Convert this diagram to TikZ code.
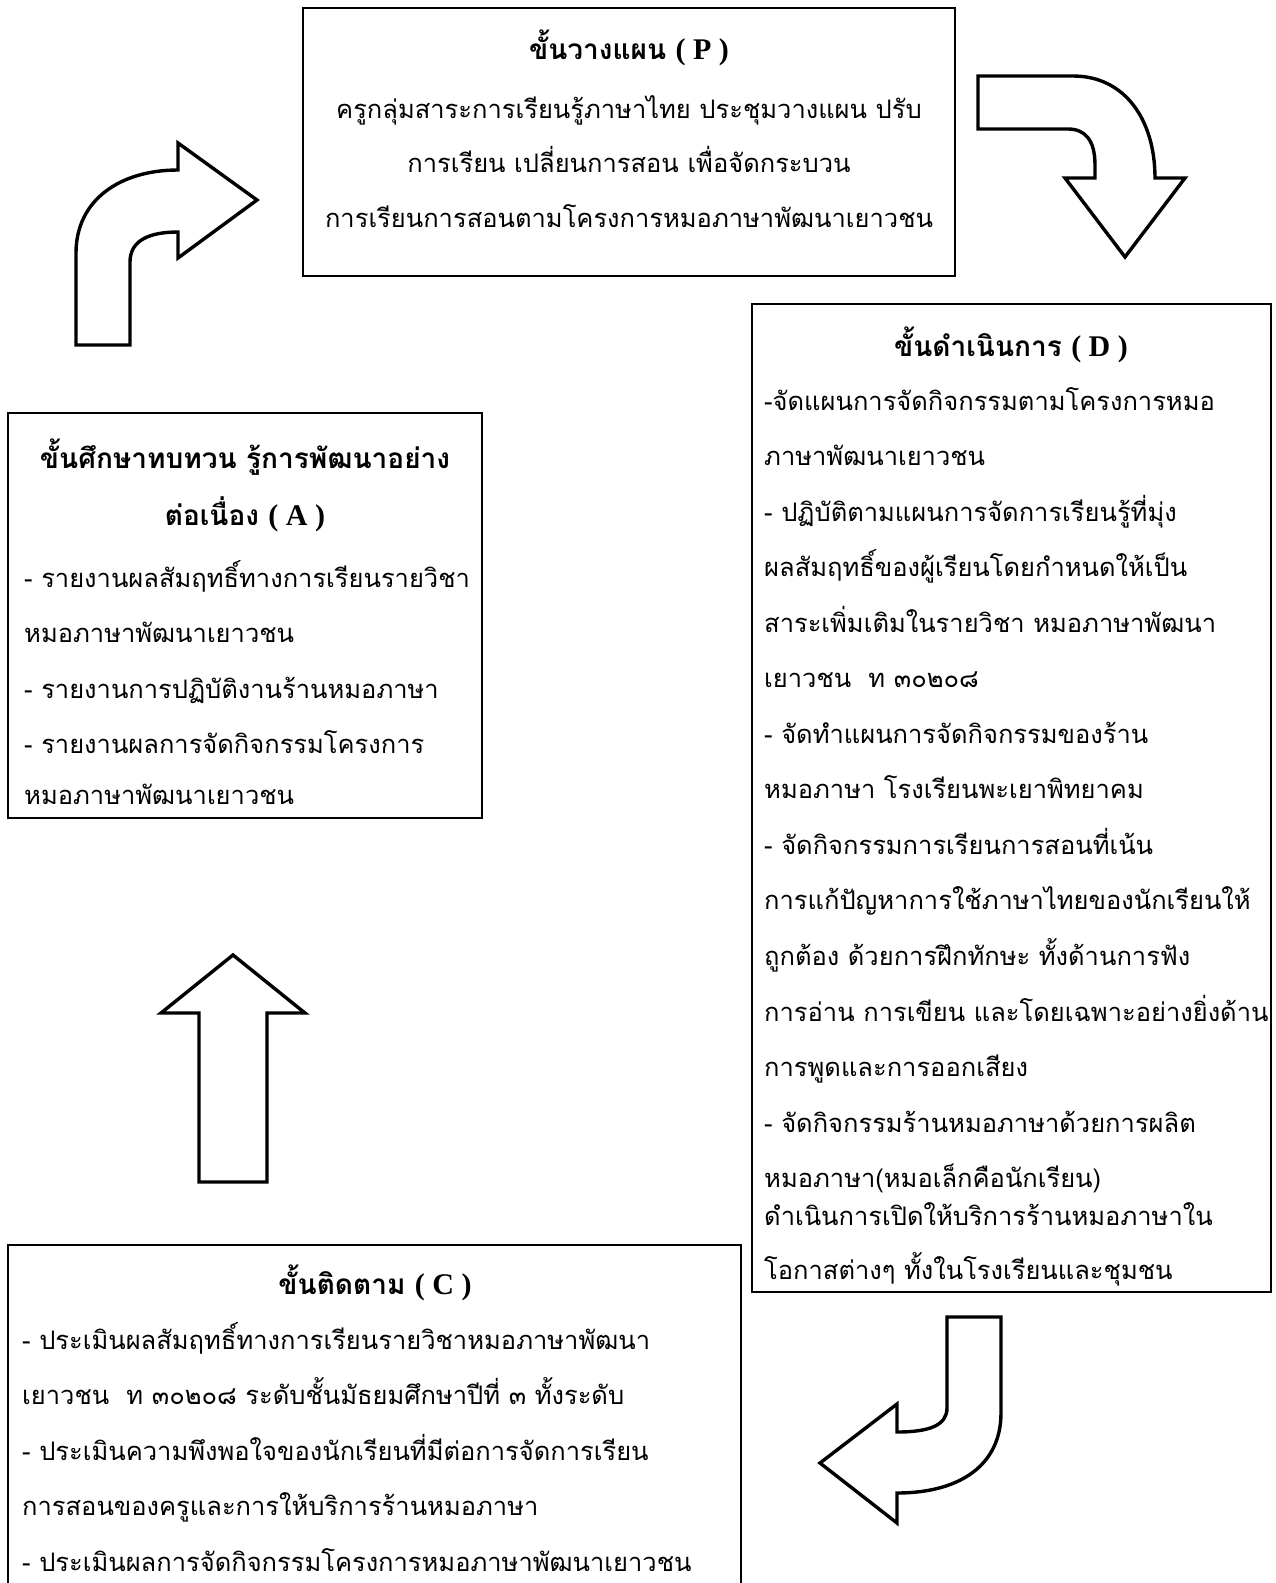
\documentclass[tikz,border=0pt]{standalone}
\usepackage{fontspec}
\newfontfamily\thaifont[Script=Thai]{Loma}
\newfontfamily\latinbf{Liberation Serif}
\tikzset{
  frame/.style={draw=black,line width=1.6pt,fill=none},
  blockarrow/.style={draw=black,line width=3.4pt,fill=white,line join=miter},
  bodyline/.style={anchor=base west,inner sep=0pt,font=\thaifont\fontsize{25.5}{30}\selectfont},
  bodyc/.style={anchor=base,inner sep=0pt,font=\thaifont\fontsize{25.5}{30}\selectfont},
  titleline/.style={anchor=base,inner sep=0pt,font=\thaifont\bfseries\fontsize{28}{32}\selectfont},
}
\newcommand{\lat}[1]{{\latinbf\bfseries\fontsize{30}{32}\selectfont #1}}
\begin{document}
\begin{tikzpicture}[x=1pt,y=-1pt]
\useasboundingbox (0,0) rectangle (1275,1583);
\fill[white] (0,0) rectangle (1275,1583);
\clip (0,0) rectangle (1275,1583);

% ---- boxes
\draw[frame] (303,8) rectangle (955,276);
\node[inner sep=0pt] (P) at (629,142) {};
\draw[frame] (752,304) rectangle (1271,1292);
\node[inner sep=0pt] (D) at (1011,798) {};
\draw[frame] (8,413) rectangle (482,818);
\node[inner sep=0pt] (A) at (245,615) {};
\draw[frame] (8,1245) rectangle (741,1620);
\node[inner sep=0pt] (C) at (375,1420) {};

% ---- P
\node[titleline] (ptitle) at (629,59) {ขั้นวางแผน \lat{( P )}};
\node[bodyc] (p1) at (629,118) {ครูกลุ่มสาระการเรียนรู้ภาษาไทย ประชุมวางแผน ปรับ};
\node[bodyc] (p2) at (629,172) {การเรียน เปลี่ยนการสอน เพื่อจัดกระบวน};
\node[bodyc] (p3) at (629,227) {การเรียนการสอนตามโครงการหมอภาษาพัฒนาเยาวชน};

% ---- D
\node[titleline] (dtitle) at (1011,356) {ขั้นดำเนินการ \lat{( D )}};
\foreach \yy/\tt [count=\i] in {
 410/{-จัดแผนการจัดกิจกรรมตามโครงการหมอ},
 465/{ภาษาพัฒนาเยาวชน},
 521/{- ปฏิบัติตามแผนการจัดการเรียนรู้ที่มุ่ง},
 576/{ผลสัมฤทธิ์ของผู้เรียนโดยกำหนดให้เป็น},
 632/{สาระเพิ่มเติมในรายวิชา หมอภาษาพัฒนา},
 687/{เยาวชน\ \ ท ๓๐๒๐๘},
 743/{- จัดทำแผนการจัดกิจกรรมของร้าน},
 798/{หมอภาษา โรงเรียนพะเยาพิทยาคม},
 854/{- จัดกิจกรรมการเรียนการสอนที่เน้น},
 909/{การแก้ปัญหาการใช้ภาษาไทยของนักเรียนให้},
 965/{ถูกต้อง ด้วยการฝึกทักษะ ทั้งด้านการฟัง},
 1021/{การอ่าน การเขียน และโดยเฉพาะอย่างยิ่งด้าน},
 1076/{การพูดและการออกเสียง},
 1132/{- จัดกิจกรรมร้านหมอภาษาด้วยการผลิต},
 1187/{หมอภาษา(หมอเล็กคือนักเรียน)},
 1225/{ดำเนินการเปิดให้บริการร้านหมอภาษาใน},
 1279/{โอกาสต่างๆ ทั้งในโรงเรียนและชุมชน}}
  \node[bodyline] (d\i) at (764,\yy) {\tt};

% ---- A
\node[titleline] (atitle1) at (245,468) {ขั้นศึกษาทบทวน รู้การพัฒนาอย่าง};
\node[titleline] (atitle2) at (245,525) {ต่อเนื่อง \lat{( A )}};
\foreach \yy/\tt [count=\i] in {
 587/{- รายงานผลสัมฤทธิ์ทางการเรียนรายวิชา},
 642/{หมอภาษาพัฒนาเยาวชน},
 698/{- รายงานการปฏิบัติงานร้านหมอภาษา},
 753/{- รายงานผลการจัดกิจกรรมโครงการ},
 804/{หมอภาษาพัฒนาเยาวชน}}
  \node[bodyline] (a\i) at (24,\yy) {\tt};

% ---- C
\node[titleline] (ctitle) at (375,1294) {ขั้นติดตาม \lat{( C )}};
\foreach \yy/\tt [count=\i] in {
 1349/{- ประเมินผลสัมฤทธิ์ทางการเรียนรายวิชาหมอภาษาพัฒนา},
 1404/{เยาวชน\ \ ท ๓๐๒๐๘ ระดับชั้นมัธยมศึกษาปีที่ ๓ ทั้งระดับ},
 1460/{- ประเมินความพึงพอใจของนักเรียนที่มีต่อการจัดการเรียน},
 1515/{การสอนของครูและการให้บริการร้านหมอภาษา},
 1571/{- ประเมินผลการจัดกิจกรรมโครงการหมอภาษาพัฒนาเยาวชน}}
  \node[bodyline] (c\i) at (22,\yy) {\tt};

% ---- block arrows
% A -> P (curved up-right)
\draw[blockarrow] (76,345) -- (76,253)
  .. controls (76,200) and (120,170) .. (178,170)
  -- (178,143) -- (257,200) -- (178,258) -- (178,232)
  .. controls (150,232) and (130,240) .. (130,262)
  -- (130,345) -- cycle;
% P -> D (curved right-down)
\draw[blockarrow] (978,76) -- (1073,76)
  .. controls (1125,76) and (1155,120) .. (1155,178)
  -- (1185,178) -- (1125,257) -- (1065,178) -- (1095,178) -- (1095,165)
  .. controls (1095,140) and (1085,129) .. (1068,129)
  -- (978,129) -- cycle;
% D -> C (curved down-left)
\draw[blockarrow] (947,1317) -- (1001,1317) -- (1001,1413)
  .. controls (1001,1465) and (960,1493) .. (897,1493)
  -- (897,1523) -- (820,1463) -- (897,1404) -- (897,1432)
  .. controls (930,1432) and (947,1425) .. (947,1408) -- cycle;
% C -> A (straight up)
\draw[blockarrow] (199,1182) -- (199,1013) -- (161,1013) -- (233,955)
  -- (305,1013) -- (267,1013) -- (267,1182) -- cycle;
\end{tikzpicture}
\end{document}
